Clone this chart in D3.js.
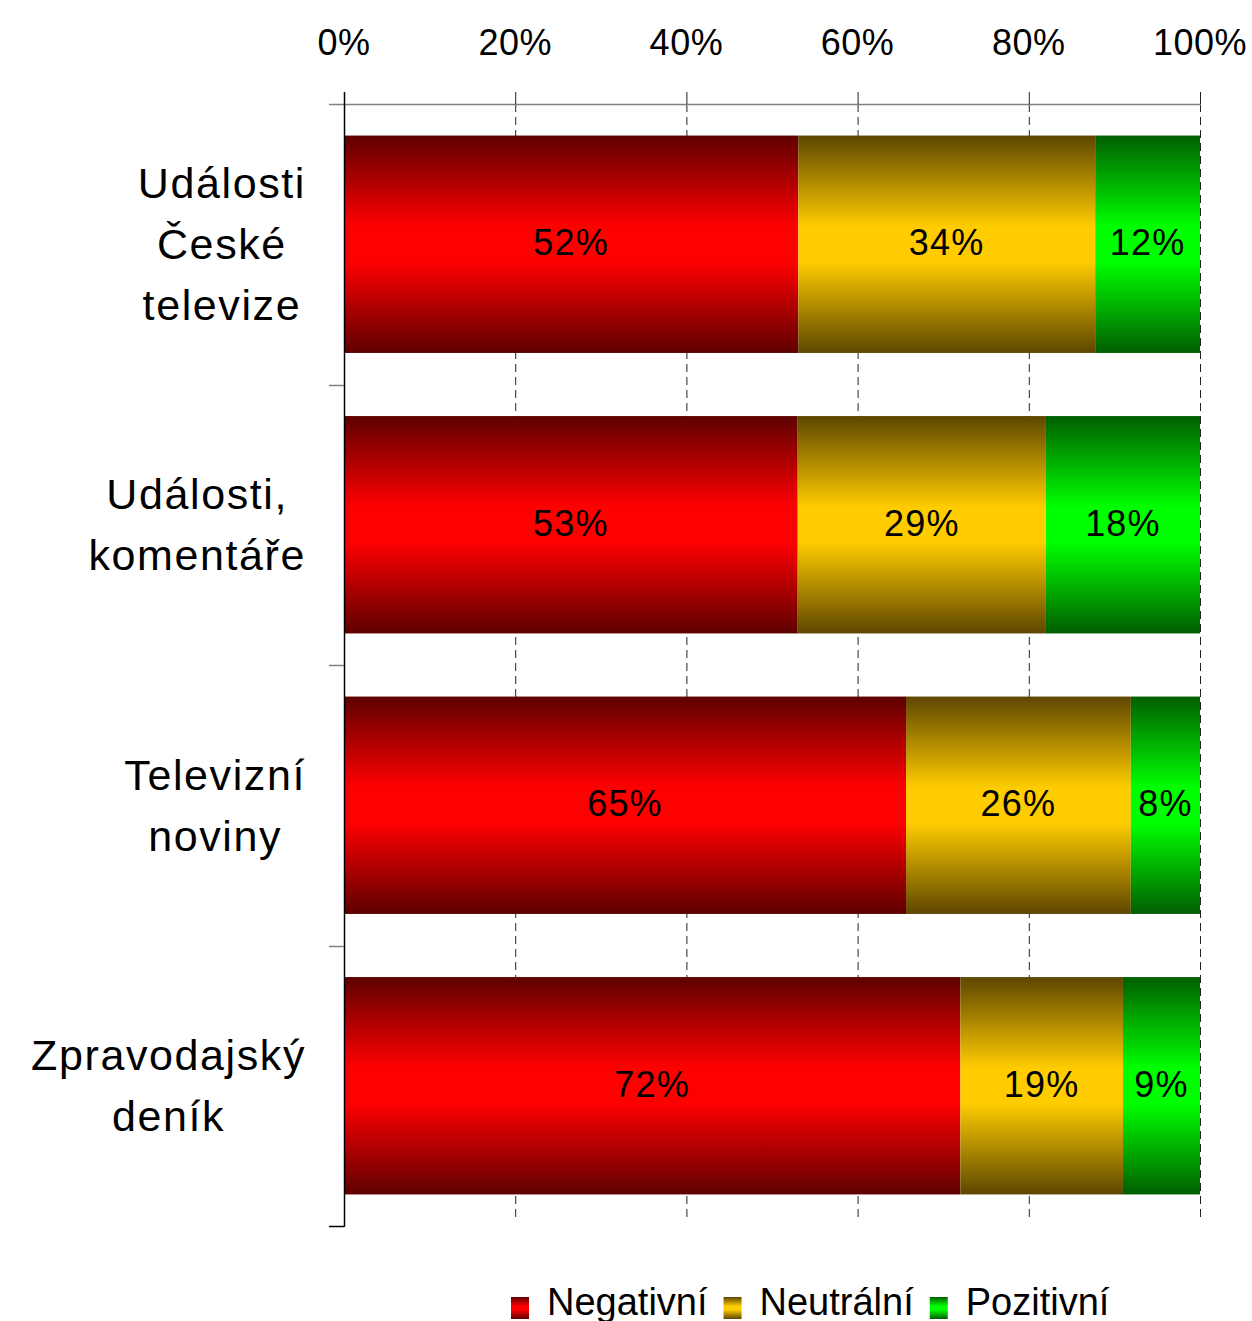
<!DOCTYPE html>
<html><head><meta charset="utf-8">
<script src="https://cdn.jsdelivr.net/npm/d3@7"></script>
<style>body{margin:0;background:#fff}svg{display:block;font-family:"Liberation Sans",Arial,sans-serif}</style>
</head><body><svg id="c" width="1252" height="1321"></svg>
<script>
const categories = [["Události","České","televize"],["Události,","komentáře"],["Televizní","noviny"],["Zpravodajský","deník"]];
const seriesNames = ["Negativní","Neutrální","Pozitivní"];
const negativni = [52,53,65,72];
const neutralni = [34,29,26,19];
const pozitivni = [12,18,8,9];
const tickLabels = ["0%","20%","40%","60%","80%","100%"];
const colorsDark = ["#5e0000","#5e4600","#005e00"];
const colorsBright = ["#ff0000","#ffcc00","#00ff00"];

const svg = d3.select("#c");
const L = 344, R = 1200, T = 104, B = 1226;
const x = d3.scaleLinear().domain([0,1]).range([L,R]);
const y = d3.scaleBand().domain(d3.range(categories.length)).range([T,B]).paddingInner(0.225).paddingOuter(0.1125);

const rows = categories.map((c,i)=>({i, Negativní:negativni[i], Neutrální:neutralni[i], Pozitivní:pozitivni[i]}));
const stack = d3.stack().keys(seriesNames).offset(d3.stackOffsetExpand)(rows);

const defs = svg.append("defs");
seriesNames.forEach((s,k)=>{
  const g = defs.append("linearGradient").attr("id","g"+k).attr("x1",0).attr("x2",0).attr("y1",0).attr("y2",1);
  [[0,colorsDark[k]],[0.42,colorsBright[k]],[0.58,colorsBright[k]],[1,colorsDark[k]]].forEach(([o,c])=>g.append("stop").attr("offset",o).attr("stop-color",c));
});

// gridlines
const ticks = [0,0.2,0.4,0.6,0.8,1];
svg.append("g").selectAll("line").data(ticks.slice(1)).join("line")
  .attr("x1",d=>x(d)+0.5).attr("x2",d=>x(d)+0.5).attr("y1",T).attr("y2",1222)
  .attr("stroke","#222").attr("stroke-width",1).attr("stroke-dasharray","8,5");
// top axis line
svg.append("line").attr("x1",329).attr("x2",R+1).attr("y1",T+0.5).attr("y2",T+0.5).attr("stroke","#808080").attr("stroke-width",1.5);
svg.append("g").selectAll("line").data(ticks).join("line")
  .attr("x1",d=>x(d)+0.5).attr("x2",d=>x(d)+0.5).attr("y1",92).attr("y2",T).attr("stroke","#222").attr("stroke-width",1);
svg.append("g").selectAll("text").data(ticks).join("text")
  .attr("x",d=>x(d)).attr("y",55).attr("text-anchor","middle").attr("font-size",36).attr("fill","#000")
  .attr("letter-spacing",0.5)
  .text((d,i)=>tickLabels[i]);

// bars
stack.forEach((layer,k)=>{
  svg.append("g").selectAll("rect").data(layer).join("rect")
    .attr("x",d=>x(d[0])).attr("width",d=>x(d[1])-x(d[0]))
    .attr("y",(d,i)=>y(i)).attr("height",y.bandwidth())
    .attr("fill",`url(#g${k})`);
  svg.append("g").selectAll("text").data(layer).join("text")
    .attr("x",d=>(x(d[0])+x(d[1]))/2).attr("y",(d,i)=>y(i)+y.bandwidth()/2+11)
    .attr("text-anchor","middle").attr("font-size",36).attr("letter-spacing",1.2).attr("fill","#000")
    .text((d,i)=>[negativni,neutralni,pozitivni][k][i]+"%");
});

// left axis
svg.append("line").attr("x1",L+0.5).attr("x2",L+0.5).attr("y1",92).attr("y2",B+1).attr("stroke","#000").attr("stroke-width",1.5);
const bounds = d3.range(1,categories.length+1).map(i=>T+(B-T)*i/categories.length);
svg.append("g").selectAll("line").data(bounds).join("line")
  .attr("x1",329).attr("x2",L).attr("y1",d=>Math.round(d)+0.5).attr("y2",d=>Math.round(d)+0.5)
  .attr("stroke",(d,i)=>i===bounds.length-1?"#000":"#808080").attr("stroke-width",1.5);

// category labels
const lh = 61, rightEdge = 306;
categories.forEach((lines,i)=>{
  const cy = T+(B-T)*(i+0.5)/categories.length;
  const g = svg.append("g");
  const texts = g.selectAll("text").data(lines).join("text")
    .attr("font-size",43).attr("letter-spacing",1.6).attr("text-anchor","middle").attr("fill","#000")
    .attr("y",(d,j)=>cy+(j-(lines.length-1)/2)*lh+15).text(d=>d);
  let maxW = 0; texts.each(function(){maxW=Math.max(maxW,this.getComputedTextLength());});
  texts.attr("x",rightEdge-maxW/2);
});

// legend
const leg = svg.append("g");
let lx = 511;
seriesNames.forEach((s,k)=>{
  leg.append("rect").attr("x",lx).attr("y",1297).attr("width",18).attr("height",22).attr("fill",`url(#g${k})`);
  const t = leg.append("text").attr("x",lx+36).attr("y",1315).attr("font-size",38).attr("fill","#000").text(s);
  lx += 36 + t.node().getComputedTextLength() + 16;
});
</script></body></html>
